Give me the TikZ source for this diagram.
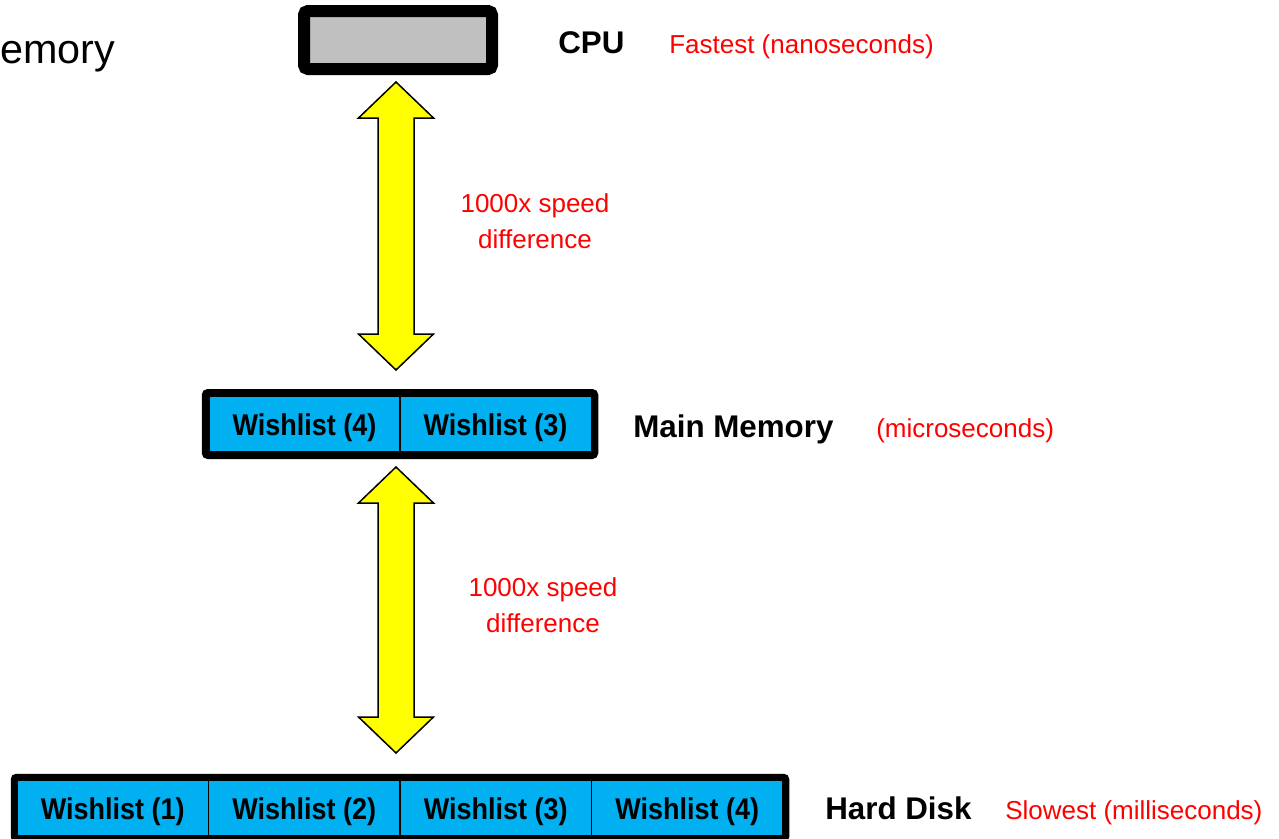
\documentclass[tikz,border=0pt]{standalone}
\usepackage{fontspec}
\usepackage{graphicx}
\setmainfont{Liberation Sans}
\usetikzlibrary{fit,calc}
\newdimen\pxu \pxu=0.75pt
\definecolor{cellblue}{HTML}{00B0F0}
\definecolor{cpugray}{HTML}{C0C0C0}
\definecolor{arrowyellow}{HTML}{FFFF00}
\definecolor{labelred}{HTML}{FF0000}
\newcommand\wl[1]{\scalebox{0.9}[1]{Wishlist (#1)}}
\tikzset{
  cell/.style={draw=black, line width=1.5\pxu, fill=cellblue, minimum width=191.5\pxu,
    minimum height=56\pxu, inner sep=0pt, text height=22\pxu, text depth=0pt,
    font=\fontsize{22.5}{27}\selectfont\bfseries},
  frame/.style={draw=black, rounded corners=3\pxu, inner sep=0pt},
  cpubox/.style={draw=black, line width=12\pxu, fill=cpugray, minimum width=188\pxu,
    minimum height=58\pxu, inner sep=0pt, rounded corners=4\pxu},
  bigarrow/.style={draw=black, fill=arrowyellow, line width=1.5\pxu, line join=miter},
  lbl/.style={inner sep=0pt, anchor=base west, font=\fontsize{23.5}{28}\selectfont\bfseries},
  redlbl/.style={inner sep=0pt, text=labelred, font=\fontsize{19.5}{27}\selectfont},
}
\newcommand\blockarrow[2]{%
  \filldraw[bigarrow] let \p1=(#1), \p2=(#2) in
    (\x1,\y1) -- (\x1+37.5\pxu,\y1-36\pxu) -- (\x1+18\pxu,\y1-36\pxu)
    -- (\x1+18\pxu,\y2+36\pxu) -- (\x1+37.5\pxu,\y2+36\pxu) -- (\x2,\y2)
    -- (\x1-37.5\pxu,\y2+36\pxu) -- (\x1-18\pxu,\y2+36\pxu)
    -- (\x1-18\pxu,\y1-36\pxu) -- (\x1-37.5\pxu,\y1-36\pxu) -- cycle;}
\begin{document}
\begin{tikzpicture}[x=0.75pt, y=-0.75pt]
\path[use as bounding box] (0,0) rectangle (1279,839);
\clip (0,0) rectangle (1279,839);
\fill[white] (0,0) rectangle (1279,839);

% title fragment
\node[inner sep=0pt, anchor=base west, font=\fontsize{31}{38}\selectfont] (title) at (0,63) {emory};

% CPU
\node[cpubox] (cpu) at (398,40) {};
\node[lbl] (cpulbl) at (558,53) {CPU};
\node[redlbl, anchor=base west] (cpuspeed) at (669,53) {Fastest (nanoseconds)};

% Main memory
\node[cell] (m4) at (304.5,424) {\wl{4}};
\node[cell] (m3) at (495.5,424) {\wl{3}};
\node[frame, line width=6.5\pxu, inner sep=3\pxu, fit=(m4)(m3)] (mem) {};
\node[lbl] (memlbl) at (633,437) {Main Memory};
\node[redlbl, anchor=base west] (memspeed) at (876,437) {(microseconds)};

% Hard disk
\node[cell] (d1) at (112.75,808) {\wl{1}};
\node[cell] (d2) at (304.25,808) {\wl{2}};
\node[cell] (d3) at (495.75,808) {\wl{3}};
\node[cell] (d4) at (687.25,808) {\wl{4}};
\node[frame, line width=5.5\pxu, inner sep=2.75\pxu, fit=(d1)(d4)] (disk) {};
\node[lbl] (disklbl) at (825,819) {Hard Disk};
\node[redlbl, anchor=base west] (diskspeed) at (1005,819) {Slowest (milliseconds)};

% arrows
\coordinate (a1t) at (396,82);
\coordinate (a1b) at (396,370);
\coordinate (a2t) at (396,467);
\coordinate (a2b) at (396,753);
\blockarrow{a1t}{a1b}
\blockarrow{a2t}{a2b}

\node[redlbl, align=center, anchor=north] (sp1) at (535,193) {1000x speed\\difference};
\node[redlbl, align=center, anchor=north] (sp2) at (543,577) {1000x speed\\difference};
\end{tikzpicture}
\end{document}
